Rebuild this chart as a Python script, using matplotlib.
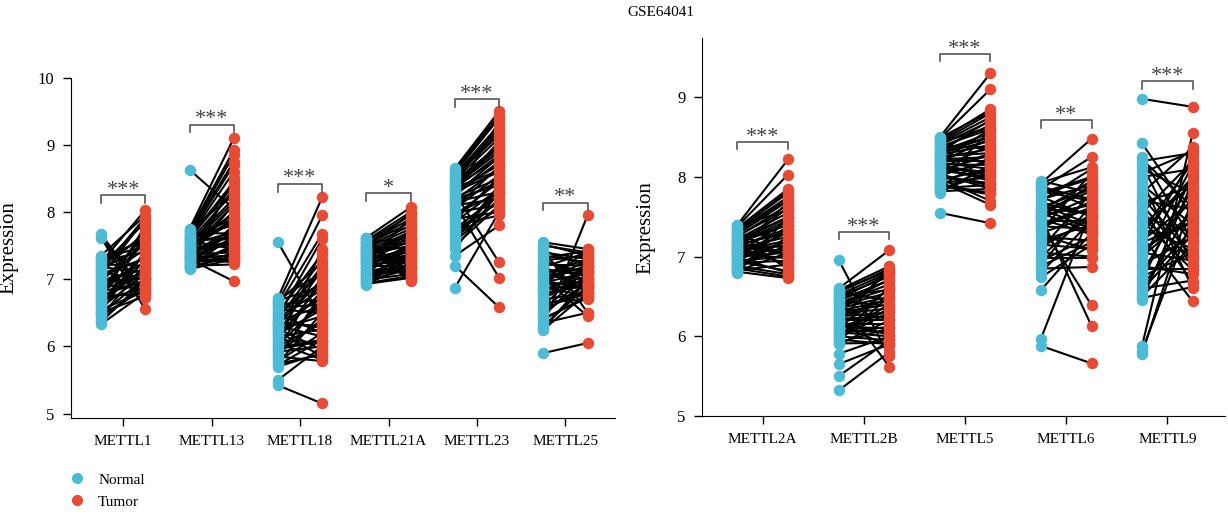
import numpy as np
import matplotlib.pyplot as plt
from matplotlib.lines import Line2D

plt.rcParams['font.family'] = ['Liberation Serif', 'DejaVu Serif']

normal_col = '#4DBBD5'
tumor_col = '#E64B35'

# left panel genes
genes_l = ['METTL1', 'METTL13', 'METTL18', 'METTL21A', 'METTL23', 'METTL25']
stars_l = ['***', '***', '***', '*', '***', '**']
brk_l = [8.25, 9.30, 8.42, 8.28, 9.68, 8.14]

n_mettl1 = [7.67, 7.62, 7.35, 7.30, 7.28, 7.25, 7.22, 7.20, 7.18, 7.15, 7.12, 7.10, 7.08, 7.05, 7.02, 7.00, 6.98, 6.95, 6.92, 6.90,
            6.88, 6.85, 6.82, 6.80, 6.78, 6.75, 6.72, 6.70, 6.68, 6.65, 6.62, 6.58, 6.55, 6.52, 6.50, 6.48, 6.45, 6.40, 6.36, 6.33,
            7.32, 7.26, 7.16, 7.04, 6.96, 6.86, 6.76, 6.66, 6.56, 6.46, 7.64, 7.13]
t_mettl1 = [6.80, 6.55, 7.95, 7.60, 7.40, 8.03, 7.20, 7.85, 7.10, 7.50, 7.70, 7.00, 7.30, 7.90, 6.90, 7.45, 7.15, 7.65, 6.85, 7.25,
            7.55, 7.05, 6.95, 7.35, 7.75, 6.78, 7.12, 7.80, 6.88, 7.18, 7.28, 7.08, 6.82, 7.42, 6.75, 7.02, 7.22, 6.92, 7.00, 6.80,
            7.48, 7.62, 7.88, 7.32, 7.02, 7.58, 6.98, 7.38, 7.68, 6.86, 6.72, 7.92]

n_mettl13 = [8.63, 7.75, 7.72, 7.70, 7.68, 7.66, 7.64, 7.62, 7.60, 7.58, 7.56, 7.55, 7.53, 7.52, 7.50, 7.48, 7.47, 7.45, 7.43, 7.42,
             7.40, 7.38, 7.37, 7.35, 7.33, 7.32, 7.30, 7.28, 7.27, 7.25, 7.23, 7.22, 7.20, 7.18, 7.17, 7.16, 7.15, 7.35, 7.45, 7.60,
             7.74, 7.69, 7.63, 7.57, 7.51, 7.46, 7.41, 7.36, 7.31, 7.26, 7.21, 7.19]
t_mettl13 = [8.05, 9.10, 8.92, 8.85, 8.75, 8.70, 7.80, 8.45, 8.40, 7.60, 8.30, 7.95, 8.20, 7.70, 8.15, 7.85, 7.50, 8.00, 7.90, 7.65,
             7.55, 7.75, 7.40, 7.70, 7.35, 7.25, 6.97, 7.60, 7.45, 7.30, 7.80, 7.50, 7.22, 7.65, 7.35, 7.40, 7.30, 7.55, 8.10, 7.90,
             8.25, 7.68, 8.60, 7.45, 7.88, 8.35, 7.58, 7.28, 8.12, 7.72, 7.48, 8.50]

n_mettl18 = [7.55, 6.72, 6.70, 6.68, 6.65, 6.62, 6.60, 6.55, 6.50, 6.48, 6.45, 6.42, 6.40, 6.38, 6.35, 6.32, 6.30, 6.28, 6.25, 6.22,
             6.20, 6.18, 6.15, 6.12, 6.10, 6.05, 6.02, 6.00, 5.98, 5.95, 5.92, 5.90, 5.85, 5.82, 5.78, 5.75, 5.72, 5.70, 5.50, 5.42,
             6.66, 6.58, 6.52, 6.44, 6.36, 6.26, 6.16, 6.06, 5.96, 5.86, 5.74, 6.33]
t_mettl18 = [6.40, 8.22, 7.10, 6.90, 7.95, 6.70, 7.68, 6.50, 7.38, 6.20, 7.60, 6.85, 7.30, 6.60, 6.30, 7.00, 6.15, 6.75, 6.45, 5.85,
             7.15, 6.55, 6.25, 6.95, 6.05, 5.80, 6.65, 6.35, 6.10, 7.05, 6.00, 6.40, 5.78, 6.80, 6.20, 6.50, 6.10, 5.90, 6.00, 5.15,
             7.25, 6.62, 6.95, 7.12, 6.28, 5.95, 6.82, 7.45, 6.08, 6.72, 5.88, 7.20]

n_mettl21a = [7.62, 7.60, 7.58, 7.56, 7.55, 7.53, 7.51, 7.50, 7.48, 7.46, 7.45, 7.43, 7.42, 7.40, 7.38, 7.37, 7.35, 7.33, 7.32, 7.30,
              7.28, 7.27, 7.25, 7.23, 7.22, 7.20, 7.18, 7.16, 7.14, 7.12, 7.10, 7.08, 7.06, 7.04, 7.02, 7.00, 6.98, 6.96, 6.94, 6.92,
              7.61, 7.54, 7.47, 7.41, 7.36, 7.29, 7.24, 7.17, 7.11, 7.05, 6.99, 6.93]
t_mettl21a = [8.07, 7.05, 8.00, 7.95, 7.00, 7.90, 7.85, 7.45, 7.80, 7.75, 6.98, 7.70, 7.60, 7.65, 7.55, 7.50, 7.72, 7.40, 7.62, 7.35,
              7.58, 7.30, 7.48, 7.25, 7.42, 7.20, 7.52, 7.38, 7.15, 7.45, 7.10, 7.32, 7.35, 7.28, 7.20, 7.40, 7.15, 7.30, 7.05, 7.25,
              7.78, 7.62, 7.98, 7.55, 7.68, 7.45, 7.92, 7.36, 7.50, 7.18, 7.08, 7.02]

n_mettl23 = [8.65, 8.62, 8.58, 8.55, 8.52, 8.50, 8.48, 8.45, 8.42, 8.40, 8.38, 8.35, 8.32, 8.30, 8.28, 8.25, 8.22, 8.20, 8.18, 8.15,
             8.12, 8.10, 8.05, 8.00, 7.95, 7.90, 7.85, 7.80, 7.75, 7.70, 7.65, 7.60, 7.55, 7.50, 7.45, 7.35, 7.20, 6.87, 8.25, 8.40,
             8.60, 8.53, 8.46, 8.36, 8.26, 8.16, 8.06, 7.98, 7.88, 7.72, 7.58, 8.33]
t_mettl23 = [9.50, 9.45, 9.40, 9.30, 9.25, 9.20, 9.10, 9.00, 8.95, 8.90, 8.80, 8.85, 8.70, 8.60, 7.25, 8.75, 8.50, 8.40, 8.65, 8.30,
             7.02, 8.20, 8.55, 8.10, 8.45, 8.00, 8.35, 7.95, 8.25, 8.15, 8.05, 8.40, 8.20, 8.10, 8.30, 7.80, 6.58, 8.00, 9.35, 8.90,
             9.42, 9.15, 8.98, 8.62, 8.82, 8.45, 8.68, 8.28, 8.52, 8.15, 8.35, 9.05]

n_mettl25 = [7.55, 7.50, 7.45, 7.40, 7.35, 7.30, 7.28, 7.25, 7.22, 7.20, 7.18, 7.15, 7.12, 7.10, 7.08, 7.05, 7.02, 7.00, 6.98, 6.95,
             6.92, 6.90, 6.88, 6.85, 6.82, 6.80, 6.75, 6.70, 6.65, 6.60, 6.55, 6.50, 6.45, 6.40, 6.35, 6.30, 6.27, 6.25, 5.90, 6.32,
             7.52, 7.42, 7.32, 7.16, 7.06, 6.96, 6.86, 6.72, 6.62, 6.52, 6.42, 6.28]
t_mettl25 = [7.45, 7.40, 6.50, 7.30, 7.25, 6.95, 7.35, 7.10, 7.20, 6.80, 7.40, 7.05, 7.15, 6.90, 7.30, 7.00, 6.45, 7.20, 6.85, 7.10,
             6.95, 7.45, 6.75, 7.05, 7.15, 6.90, 7.00, 6.80, 6.70, 7.25, 6.85, 6.95, 7.10, 6.75, 6.50, 6.90, 7.00, 6.80, 6.05, 7.95,
             7.35, 7.20, 7.42, 6.88, 7.12, 7.28, 6.92, 7.02, 6.78, 7.18, 6.72, 6.98]

# right panel genes
genes_r = ['METTL2A', 'METTL2B', 'METTL5', 'METTL6', 'METTL9']
stars_r = ['***', '***', '***', '**', '***']
brk_r = [8.44, 7.31, 9.54, 8.71, 9.20]

n_mettl2a = [7.40, 7.38, 7.36, 7.34, 7.32, 7.30, 7.28, 7.26, 7.25, 7.23, 7.22, 7.20, 7.18, 7.17, 7.15, 7.13, 7.12, 7.10, 7.08, 7.07,
             7.05, 7.03, 7.02, 7.00, 6.98, 6.96, 6.95, 6.93, 6.92, 6.90, 6.88, 6.86, 6.85, 6.84, 6.83, 6.82, 6.81, 6.80, 7.10, 7.20,
             7.39, 7.33, 7.27, 7.21, 7.14, 7.09, 7.04, 6.99, 6.94, 6.89, 7.31, 7.16]
t_mettl2a = [8.22, 8.03, 7.85, 7.80, 7.75, 7.00, 7.70, 7.60, 7.65, 6.85, 7.55, 7.50, 7.45, 7.40, 7.30, 7.35, 6.90, 7.25, 7.20, 7.15,
             7.45, 7.10, 7.30, 7.05, 6.80, 7.20, 7.00, 7.35, 6.95, 7.10, 6.78, 7.15, 6.75, 7.25, 6.90, 7.05, 6.73, 7.50, 7.62, 7.40,
             7.58, 7.82, 7.28, 7.48, 7.12, 7.68, 6.98, 7.38, 6.82, 7.22, 7.72, 7.02]

n_mettl2b = [6.96, 6.60, 6.58, 6.55, 6.52, 6.50, 6.48, 6.45, 6.42, 6.40, 6.38, 6.35, 6.32, 6.30, 6.28, 6.25, 6.22, 6.20, 6.18, 6.15,
             6.12, 6.10, 6.08, 6.05, 6.02, 6.00, 5.98, 5.96, 5.94, 5.92, 5.90, 5.78, 5.65, 5.50, 5.32, 6.45, 6.30, 6.15, 6.00, 6.55,
             6.57, 6.51, 6.44, 6.37, 6.31, 6.24, 6.17, 6.11, 6.04, 5.97, 5.91, 6.47]
t_mettl2b = [5.75, 7.08, 6.88, 6.85, 6.80, 6.75, 5.62, 6.70, 6.65, 6.60, 6.55, 6.50, 6.45, 6.40, 6.35, 6.30, 6.25, 6.20, 6.85, 6.15,
             6.10, 6.60, 6.05, 6.00, 6.40, 5.95, 6.30, 5.90, 6.50, 6.10, 6.20, 6.00, 5.90, 5.95, 5.80, 6.70, 6.80, 5.88, 6.35, 6.45,
             6.82, 6.58, 6.38, 6.72, 6.22, 6.48, 6.02, 6.32, 6.12, 6.62, 5.92, 6.78]

n_mettl5 = [8.50, 8.48, 8.46, 8.44, 8.42, 8.40, 8.38, 8.36, 8.34, 8.32, 8.30, 8.28, 8.26, 8.24, 8.22, 8.20, 8.18, 8.16, 8.14, 8.12,
            8.10, 8.08, 8.06, 8.04, 8.02, 8.00, 7.98, 7.96, 7.94, 7.92, 7.90, 7.88, 7.86, 7.84, 7.82, 7.80, 7.55, 8.30, 8.20, 8.40,
            8.49, 8.43, 8.37, 8.31, 8.25, 8.19, 8.13, 8.07, 8.01, 7.95, 7.89, 7.83]
t_mettl5 = [9.30, 9.10, 8.85, 8.80, 8.75, 8.70, 8.60, 8.65, 8.50, 8.55, 8.45, 8.40, 8.30, 8.35, 8.25, 8.20, 8.10, 8.15, 8.05, 7.95,
            8.40, 8.00, 8.30, 7.85, 8.20, 7.90, 7.70, 8.10, 7.65, 8.00, 7.80, 8.25, 7.90, 8.05, 7.85, 8.15, 7.42, 8.50, 8.60, 8.35,
            8.82, 8.62, 8.38, 8.72, 8.18, 8.48, 8.02, 8.28, 7.92, 8.58, 7.78, 8.12]

n_mettl6 = [7.95, 7.92, 7.90, 7.85, 7.82, 7.80, 7.75, 7.72, 7.70, 7.65, 7.62, 7.60, 7.58, 7.55, 7.52, 7.50, 7.48, 7.45, 7.42, 7.40,
            7.38, 7.35, 7.32, 7.30, 7.25, 7.20, 7.15, 7.10, 7.05, 7.00, 6.95, 6.90, 6.85, 6.80, 6.74, 6.58, 5.97, 5.88, 7.50, 7.60,
            7.93, 7.87, 7.78, 7.68, 7.57, 7.47, 7.37, 7.27, 7.12, 6.98, 6.88, 7.53]
t_mettl6 = [7.80, 8.48, 7.60, 8.25, 7.70, 8.00, 7.50, 7.90, 8.10, 7.40, 7.85, 7.55, 7.95, 7.30, 7.65, 6.13, 7.75, 7.45, 7.60, 6.39,
            7.35, 7.70, 8.05, 7.50, 7.20, 7.40, 7.10, 7.80, 7.00, 7.55, 7.25, 7.65, 6.87, 7.45, 7.15, 7.30, 7.60, 5.66, 7.90, 7.35,
            8.12, 7.72, 7.98, 7.52, 7.82, 7.28, 7.62, 7.08, 7.48, 6.98, 7.18, 7.88]

n_mettl9 = [8.98, 8.42, 8.25, 8.20, 8.15, 8.10, 8.00, 7.95, 7.90, 7.80, 7.75, 7.70, 7.60, 7.55, 7.50, 7.45, 7.40, 7.35, 7.30, 7.25,
            7.20, 7.15, 7.10, 7.05, 7.00, 6.95, 6.90, 6.85, 6.80, 6.75, 6.70, 6.65, 6.60, 6.55, 6.50, 6.45, 5.88, 5.82, 5.78, 7.65,
            8.22, 8.05, 7.85, 7.68, 7.48, 7.32, 7.18, 7.02, 6.88, 6.72, 6.58, 6.48]
t_mettl9 = [8.88, 7.50, 7.20, 8.30, 6.90, 7.80, 8.10, 6.60, 7.40, 8.37, 7.00, 7.60, 6.67, 8.20, 7.30, 6.83, 7.90, 7.10, 8.00, 6.44,
            7.70, 8.25, 7.45, 6.95, 7.55, 8.15, 7.25, 6.85, 7.85, 7.05, 8.05, 7.35, 6.70, 7.65, 7.15, 7.95, 8.55, 7.50, 7.75, 6.90,
            7.62, 8.32, 7.18, 7.88, 6.98, 8.18, 7.42, 7.72, 6.78, 8.02, 7.28, 6.62]

pairs_l = [(n_mettl1, t_mettl1), (n_mettl13, t_mettl13), (n_mettl18, t_mettl18),
           (n_mettl21a, t_mettl21a), (n_mettl23, t_mettl23), (n_mettl25, t_mettl25)]
pairs_r = [(n_mettl2a, t_mettl2a), (n_mettl2b, t_mettl2b), (n_mettl5, t_mettl5),
           (n_mettl6, t_mettl6), (n_mettl9, t_mettl9)]

fig = plt.figure(figsize=(12.28, 5.17), dpi=100)
ax1 = fig.add_axes([0.0578, 0.191, 0.443, 0.6587])
ax2 = fig.add_axes([0.5717, 0.1954, 0.4259, 0.7305])

off = 0.25


def draw(ax, genes, pairs, stars, brk, dh):
    for i, (nv, tv) in enumerate(pairs):
        for a, b in zip(nv, tv):
            ax.plot([i - off, i + off], [a, b], color='black', lw=1.5, zorder=1)
        ax.scatter(np.full(len(nv), i - off), nv, s=68, color=normal_col, lw=0, zorder=2)
        ax.scatter(np.full(len(tv), i + off), tv, s=68, color=tumor_col, lw=0, zorder=2)
        ax.plot([i - off, i - off, i + off, i + off], [brk[i] - dh, brk[i], brk[i], brk[i] - dh],
                color='#555555', lw=1.2, zorder=3)
        ax.text(i, brk[i] + dh * 0.05, stars[i], ha='center', va='baseline', fontsize=16, color='#444444')
    ax.set_xticks(range(len(genes)))
    ax.set_xticklabels(genes, fontsize=11)
    ax.spines['top'].set_visible(False)
    ax.spines['right'].set_visible(False)
    ax.tick_params(axis='both', length=6, width=1, pad=6)
    ax.tick_params(axis='y', labelsize=12)
    ax.set_ylabel('Expression', fontsize=15)
    ax.yaxis.set_label_coords(-0.097, 0.5)


draw(ax1, genes_l, pairs_l, stars_l, brk_l, 0.115)
ax1.set_xlim(-0.59, 5.56)
ax1.set_ylim(4.93, 10.0)
ax1.set_yticks([5, 6, 7, 8, 9, 10])

draw(ax2, genes_r, pairs_r, stars_r, brk_r, 0.09)
ax2.set_xlim(-0.6, 4.57)
ax2.set_ylim(5.0, 9.74)
ax2.set_yticks([5, 6, 7, 8, 9])
ax2.yaxis.set_label_coords(-0.09, 0.5)

fig.text(0.538, 0.975, 'GSE64041', ha='center', va='center', fontsize=11)

handles = [Line2D([], [], ls='none', marker='o', ms=7, color=normal_col),
           Line2D([], [], ls='none', marker='o', ms=7, color=tumor_col)]
fig.legend(handles, ['Normal', 'Tumor'], loc='upper left', bbox_to_anchor=(0.045, 0.097),
           frameon=False, fontsize=11, handletextpad=0.4, labelspacing=0.55, borderaxespad=0)

plt.savefig('out.png', dpi=100)
